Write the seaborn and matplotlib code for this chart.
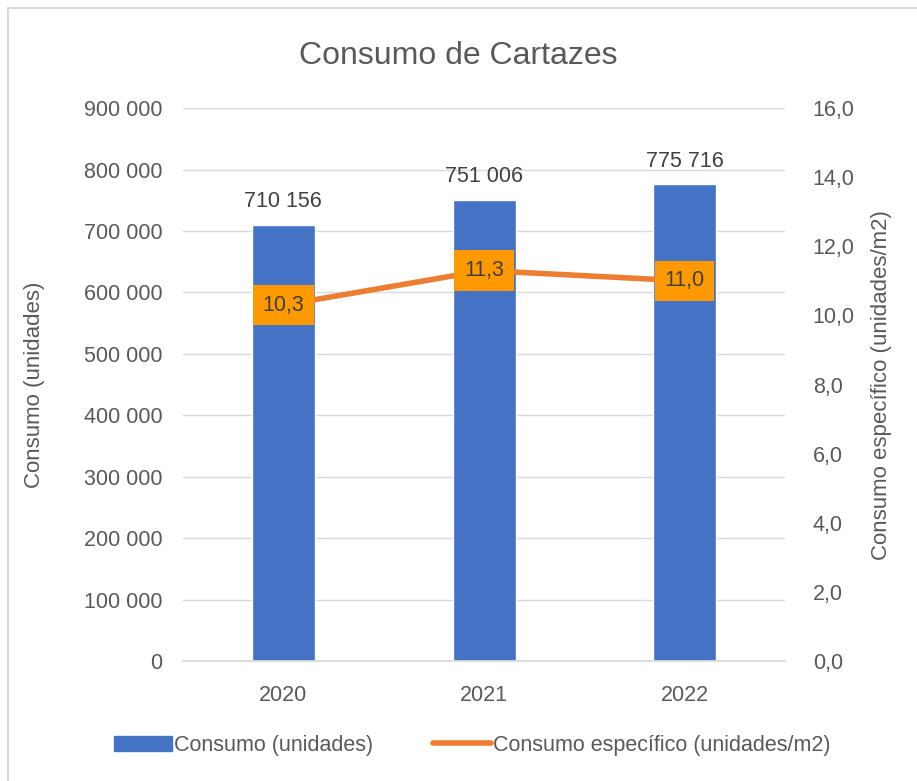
import numpy as np
import pandas as pd
import matplotlib
matplotlib.use('Agg')
import matplotlib.pyplot as plt
import matplotlib.patches as mpatches
from matplotlib.lines import Line2D
from matplotlib.ticker import FuncFormatter, MultipleLocator
import seaborn as sns

# Datos
anos = ['2020', '2021', '2022']
consumo = [710156, 751006, 775716]
consumo_especifico = [10.3, 11.3, 11.0]

cor_barra = '#4472C4'
cor_linha = '#ED7D31'
cor_caixa = '#FF9900'
cor_texto = '#595959'

sns.set_theme(style='white')
plt.rcParams['font.family'] = ['Liberation Sans', 'DejaVu Sans']

df = pd.DataFrame({'Ano': anos, 'Consumo': consumo, 'Especifico': consumo_especifico})

fig = plt.figure(figsize=(9.17, 7.81), dpi=100)
ax = fig.add_axes([0.1996, 0.1536, 0.6565, 0.708])

sns.barplot(data=df, x='Ano', y='Consumo', color=cor_barra, width=0.314,
            saturation=1, ax=ax)
ax.set_ylim(0, 900000)
ax.yaxis.set_major_locator(MultipleLocator(100000))
ax.yaxis.set_major_formatter(FuncFormatter(lambda v, p: f'{int(v):,}'.replace(',', ' ')))
ax.grid(axis='y', color='#D9D9D9', linewidth=1)
ax.set_axisbelow(True)
for s in ['top', 'right', 'left']:
    ax.spines[s].set_visible(False)
ax.spines['bottom'].set_color('#D9D9D9')
ax.tick_params(axis='y', colors=cor_texto, labelsize=15.5, length=0, pad=15)
ax.tick_params(axis='x', colors=cor_texto, labelsize=15.5, length=0, pad=17)
ax.set_xlabel('')
ax.set_ylabel('Consumo (unidades)', color=cor_texto, fontsize=16, labelpad=28)

# rótulos das barras
for i, v in enumerate(consumo):
    ax.text(i, v + 21000, f'{v:,}'.replace(',', ' '), ha='center', va='bottom',
            color='#404040', fontsize=15.5)

ax2 = ax.twinx()
sns.lineplot(x=np.arange(len(anos)), y=consumo_especifico, color=cor_linha,
             linewidth=4, ax=ax2)
ax2.set_ylim(0, 16)
ax2.yaxis.set_major_locator(MultipleLocator(2))
ax2.yaxis.set_major_formatter(FuncFormatter(lambda v, p: f'{v:.1f}'.replace('.', ',')))
for s in ['top', 'right', 'left', 'bottom']:
    ax2.spines[s].set_visible(False)
ax2.tick_params(axis='y', colors=cor_texto, labelsize=15.5, length=0, pad=20)
ax2.set_ylabel('Consumo específico (unidades/m2)', color=cor_texto, fontsize=16,
               labelpad=12)
for i, v in enumerate(consumo_especifico):
    ax2.text(i, v, f'{v:.1f}'.replace('.', ','), ha='center', va='center',
             color='#404040', fontsize=15.5,
             bbox=dict(boxstyle='square,pad=0.45', facecolor=cor_caixa,
                       edgecolor='none'))
ax.set_xlim(-0.5, 2.5)

fig.suptitle('Consumo de Cartazes', x=0.5, y=0.948, fontsize=23, color=cor_texto)

handles = [mpatches.Patch(color=cor_barra, label='Consumo (unidades)'),
           Line2D([0], [0], color=cor_linha, linewidth=4,
                  label='Consumo específico (unidades/m2)')]
fig.legend(handles=handles, loc='center', bbox_to_anchor=(0.515, 0.046), ncol=2,
           frameon=False, fontsize=15.5, labelcolor=cor_texto, handlelength=2.7,
           handletextpad=0.1, columnspacing=2.8)

fig.patches.append(mpatches.Rectangle((8 / 917, -0.1), 1.2, 1.1 - 8 / 781,
                                      transform=fig.transFigure, fill=False,
                                      edgecolor='#D9D9D9', linewidth=1.5))

fig.savefig('out.png', dpi=100)
